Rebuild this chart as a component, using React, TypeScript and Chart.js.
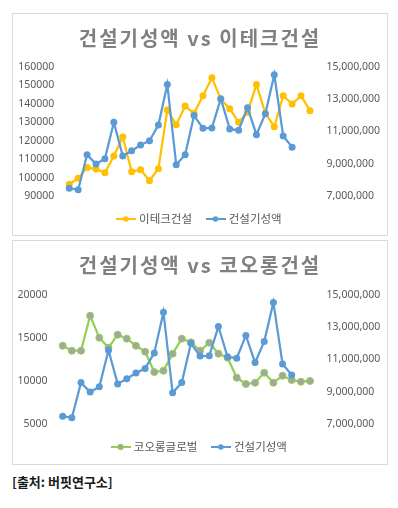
import React, { useEffect, useRef } from 'react';
import { Chart, registerables } from 'chart.js';

Chart.register(...registerables);

// ---- data ----
const categories = [
  '1', '2', '3', '4', '5', '6', '7', '8', '9', '10', '11', '12', '13', '14',
  '15', '16', '17', '18', '19', '20', '21', '22', '23', '24', '25', '26', '27', '28',
];

const constructionValues = [
  7480000, 7390000, 9560000, 8980000, 9310000, 11570000, 9480000, 9800000, 10160000, 10430000,
  11400000, 13920000, 8940000, 9560000, 11990000, 11200000, 11220000, 13030000, 11160000, 11070000,
  12480000, 10800000, 12100000, 14520000, 10720000, 10030000, null, null,
];

const etechValues = [
  96400, 99600, 105400, 104700, 102600, 111700, 122000, 103200, 104300, 98300,
  104800, 136700, 128700, 138800, 134900, 144400, 154200, 142500, 137400, 130000,
  135400, 150500, 134900, 127600, 144400, 139900, 144400, 136300,
];

const kolonValues = [
  14080, 13500, 13500, 17560, 15010, 13850, 15360, 14900, 14080, 13390,
  11030, 11180, 13160, 14900, 14480, 13500, 14430, 13160, 12690, 10370,
  9640, 9790, 10950, 9790, 10600, 10100, 9910, 9990,
];

const etechAxis = { min: 90000, max: 160000, step: 10000 };
const kolonAxis = { min: 5000, max: 20000, step: 5000 };
const constructionAxis = { min: 7000000, max: 15000000, step: 2000000 };

const seriesNames = {
  construction: '건설기성액',
  etech: '이테크건설',
  kolon: '코오롱글로벌',
};
const titles = ['건설기성액 vs 이테크건설', '건설기성액 vs 코오롱건설'];
const sourceText = '[출처: 버핏연구소]';

// ---- styles ----
const BLUE = '#5B9BD5';
const YELLOW = '#FFC000';
const GREEN = '#92D050';
const GRAY_MARK = '#A5A5A5';
const TICK_COLOR = '#595959';
const TITLE_COLOR = '#808080';

function legendImage(line: string, fill: string, border?: string) {
  const c = document.createElement('canvas');
  c.width = 20;
  c.height = 8;
  const ctx = c.getContext('2d')!;
  ctx.strokeStyle = line;
  ctx.lineWidth = 2;
  ctx.beginPath();
  ctx.moveTo(0, 4);
  ctx.lineTo(20, 4);
  ctx.stroke();
  ctx.beginPath();
  ctx.arc(10, 4, 2.8, 0, Math.PI * 2);
  ctx.fillStyle = fill;
  ctx.fill();
  if (border) {
    ctx.strokeStyle = border;
    ctx.lineWidth = 1;
    ctx.stroke();
  }
  return c;
}

const titleSpacing = {
  id: 'titleSpacing',
  afterUpdate(chart: any) {
    const tb = chart.titleBlock;
    if (tb && !tb._spaced) {
      const orig = tb.draw.bind(tb);
      tb.draw = (...args: any[]) => {
        const ctx = chart.ctx as any;
        ctx.save();
        ctx.letterSpacing = '2px';
        orig(...args);
        ctx.restore();
        ctx.letterSpacing = '0px';
      };
      tb._spaced = true;
    }
  },
};

type ChartProps = {
  title: string;
  companyName: string;
  companyValues: number[];
  companyAxis: { min: number; max: number; step: number };
  companyColor: string;
  companyMarkFill: string;
  companyMarkBorder?: string;
  leftWidth: number;
  rightWidth: number;
  titleBottom: number;
  bottomPad: number;
  xAxisHeight: number;
  height: number;
};

function ComboChart(p: ChartProps) {
  const ref = useRef<HTMLCanvasElement>(null);
  useEffect(() => {
    const imgs = [
      legendImage(p.companyColor, p.companyMarkFill, p.companyMarkBorder),
      legendImage(BLUE, BLUE),
    ];
    const chart = new Chart(ref.current!, {
      type: 'line',
      plugins: [titleSpacing],
      data: {
        labels: categories,
        datasets: [
          {
            label: p.companyName,
            data: p.companyValues,
            yAxisID: 'y',
            borderColor: p.companyColor,
            backgroundColor: p.companyColor,
            borderWidth: 2.25,
            pointRadius: 3.5,
            pointBackgroundColor: p.companyMarkFill,
            pointBorderColor: p.companyMarkBorder || p.companyMarkFill,
            pointBorderWidth: p.companyMarkBorder ? 1 : 0,
            tension: 0,
            order: 1,
          },
          {
            label: seriesNames.construction,
            data: constructionValues,
            yAxisID: 'y1',
            borderColor: BLUE,
            backgroundColor: BLUE,
            borderWidth: 2.25,
            pointRadius: 3.5,
            pointBackgroundColor: BLUE,
            pointBorderWidth: 0,
            tension: 0,
            order: 0,
          },
        ],
      },
      options: {
        animation: false,
        responsive: false,
        maintainAspectRatio: false,
        layout: { padding: { left: 0, right: 0, top: 0, bottom: p.bottomPad } },
        scales: {
          x: {
            type: 'category',
            offset: true,
            display: true,
            grid: { display: false, drawTicks: false },
            border: { display: false },
            ticks: { display: false },
            afterFit: (s: any) => {
              s.height = p.xAxisHeight;
            },
          },
          y: {
            position: 'left',
            min: p.companyAxis.min,
            max: p.companyAxis.max,
            grid: { display: false, drawTicks: false },
            border: { display: false },
            ticks: {
              stepSize: p.companyAxis.step,
              padding: 10.5,
              color: TICK_COLOR,
              font: { family: "'Noto Sans', sans-serif", size: 10.5 },
              callback: (v: any) => String(v),
            },
            afterFit: (s: any) => {
              s.width = p.leftWidth;
            },
          },
          y1: {
            position: 'right',
            min: constructionAxis.min,
            max: constructionAxis.max,
            grid: { display: false, drawTicks: false },
            border: { display: false },
            ticks: {
              stepSize: constructionAxis.step,
              padding: 12,
              color: TICK_COLOR,
              font: { family: "'Noto Sans', sans-serif", size: 10.5 },
              callback: (v: any) => Number(v).toLocaleString('en-US'),
            },
            afterFit: (s: any) => {
              s.width = p.rightWidth;
            },
          },
        },
        plugins: {
          title: {
            display: true,
            text: p.title,
            color: TITLE_COLOR,
            font: { family: "'Noto Sans CJK KR', sans-serif", size: 20, weight: 'bold' },
            padding: { top: 12, bottom: p.titleBottom },
          },
          legend: {
            display: true,
            position: 'bottom',
            labels: {
              usePointStyle: true,
              pointStyleWidth: 15,
              padding: 16,
              color: TICK_COLOR,
              font: { family: "'Noto Sans CJK KR', sans-serif", size: 11.5 },
              generateLabels: (chart: any) => {
                const base = Chart.defaults.plugins.legend.labels.generateLabels(chart);
                return base
                  .sort((a: any, b: any) => a.datasetIndex - b.datasetIndex)
                  .map((item: any) => ({ ...item, pointStyle: imgs[item.datasetIndex], lineWidth: 0 }));
              },
            },
          },
          tooltip: { enabled: false },
        },
      },
    } as any);
    return () => chart.destroy();
  }, []);
  return <canvas ref={ref} width={374} height={p.height} style={{ display: 'block' }} />;
}

export default function App() {
  const box: React.CSSProperties = {
    position: 'absolute',
    left: 12,
    width: 374,
    border: '1px solid #D9D9D9',
    background: '#fff',
  };
  return (
    <div style={{ position: 'absolute', left: 0, top: 0, width: 398, height: 508, background: '#fff' }}>
      <div style={{ ...box, top: 13, height: 221 }}>
        <ComboChart
          title={titles[0]}
          companyName={seriesNames.etech}
          companyValues={etechValues}
          companyAxis={etechAxis}
          companyColor={YELLOW}
          companyMarkFill={YELLOW}
          leftWidth={51.8}
          rightWidth={72.6}
          titleBottom={17}
          bottomPad={0.25}
          xAxisHeight={1.25}
          height={221}
        />
      </div>
      <div style={{ ...box, top: 240, height: 223 }}>
        <ComboChart
          title={titles[1]}
          companyName={seriesNames.kolon}
          companyValues={kolonValues}
          companyAxis={kolonAxis}
          companyColor={GREEN}
          companyMarkFill={GRAY_MARK}
          companyMarkBorder={GREEN}
          leftWidth={45.1}
          rightWidth={72.4}
          titleBottom={17.7}
          bottomPad={1.25}
          xAxisHeight={1.25}
          height={223}
        />
      </div>
      <div
        style={{
          position: 'absolute',
          left: 12,
          top: 473,
          fontFamily: "'Noto Sans CJK KR', sans-serif",
          fontWeight: 'bold',
          fontSize: 13,
          lineHeight: '17px',
          color: '#1a1a1a',
        }}
      >
        {sourceText}
      </div>
    </div>
  );
}
